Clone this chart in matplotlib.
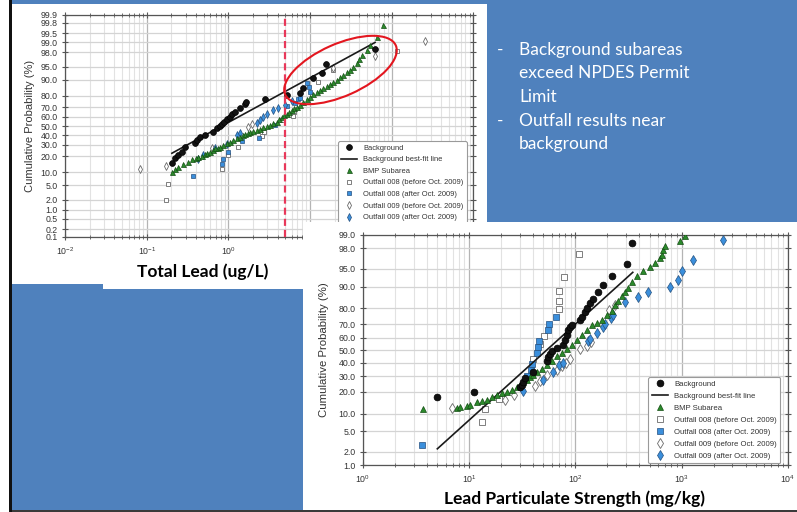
from statistics import NormalDist

import numpy as np
import matplotlib
matplotlib.use('Agg')
import matplotlib.pyplot as plt
from matplotlib.patches import Rectangle, Ellipse
from matplotlib.ticker import FixedLocator, FixedFormatter, LogLocator, NullFormatter, LogFormatterMathtext

plt.rcParams['font.family'] = ['Liberation Sans', 'DejaVu Sans']

# ---- Total lead (ug/L) vs cumulative probability (%)
tl_bg_x = [0.203, 0.223, 0.244, 0.269, 0.295, 0.391, 0.410, 0.451, 0.519, 0.655, 0.721, 0.791, 0.830,
           0.886, 0.955, 1.05, 1.12, 1.21, 1.39, 1.60, 1.63, 2.81, 5.27, 7.55, 8.28, 10.8, 13.9, 15.7, 62.5]
tl_bg_p = [15.0, 18.4, 21.0, 23.7, 28.2, 31.5, 34.8, 38.3, 40.1, 43.7, 47.4, 50.0, 52.2,
           54.8, 57.4, 60.2, 63.1, 65.5, 68.9, 73.0, 75.1, 77.4, 80.6, 82.3, 85.3, 90.8, 93.1, 95.8, 98.4]
tl_fit_x = [0.203, 62.5]
tl_fit_p = [22.4, 99.0]
tl_bmp_x = [0.203, 0.223, 0.244, 0.281, 0.324, 0.356, 0.40, 0.43, 0.472, 0.519, 0.55, 0.597, 0.64, 0.687,
            0.74, 0.791, 0.86, 0.955, 1.05, 1.15, 1.27, 1.39, 1.50, 1.60, 1.72, 1.84, 2.0, 2.23, 2.45,
            2.68, 2.95, 3.24, 3.55, 3.91, 4.2, 4.50, 4.85, 5.19, 5.55, 5.97, 6.4, 6.87, 7.5, 8.28, 9.1,
            10.0, 11.0, 12.1, 13.2, 14.5, 16.0, 17.6, 19.3, 21.2, 23.3, 25.6, 28.0, 30.9, 34.0, 37.3,
            40.0, 43.0, 49.4, 54.2, 65.5, 78.9]
tl_bmp_p = [10.2, 11.4, 12.9, 14.5, 16.0, 17.7, 18.8, 19.5, 20.2, 21.8, 22.5, 23.7, 25.0, 26.7,
            27.3, 28.2, 29.8, 31.5, 33.0, 34.8, 36.5, 38.3, 40.0, 41.2, 42.2, 43.0, 44.2, 45.6, 47.0,
            48.6, 50.0, 51.1, 53.0, 54.8, 57.5, 59.6, 61.5, 63.1, 65.0, 67.2, 69.0, 70.4, 72.5, 75.1, 77.3,
            79.3, 81.2, 83.0, 84.3, 85.3, 86.7, 87.9, 89.0, 90.0, 91.2, 92.2, 93.2, 94.1, 95.1, 96.0,
            96.8, 97.6, 98.3, 98.8, 99.35, 99.75]
tl_o8b_x = [0.173, 0.184, 0.830, 1.0, 1.31, 2.56, 2.73, 4.50, 6.25, 6.37, 12.6, 19.3, 115]
tl_o8b_p = [2.0, 5.2, 11.6, 20.7, 27.5, 39.0, 43.4, 56.6, 61.0, 65.2, 89.1, 94.0, 98.2]
tl_o8a_x = [0.373, 0.830, 0.869, 1.0, 1.46, 2.36, 3.73, 5.19, 6.55, 7.19, 7.55, 9.12, 9.73, 10.0]
tl_o8a_p = [8.3, 14.8, 17.7, 23.7, 33.5, 36.6, 50.6, 71.1, 74.3, 77.0, 78.0, 88.5, 86.2, 83.1]
tl_o9b_x = [0.083, 0.173, 0.631, 1.76, 1.95, 19.3, 62.5, 254]
tl_o9b_p = [11.4, 13.5, 27.0, 48.9, 51.7, 94.8, 97.5, 99.1]
tl_o9a_x = [0.430, 0.494, 0.687, 0.955, 1.27, 1.39, 2.23, 2.44, 2.66, 2.95, 3.56, 4.09, 4.94, 6.02]
tl_o9a_p = [17.9, 21.0, 27.3, 31.3, 39.6, 42.6, 53.0, 56.6, 59.9, 62.8, 66.7, 69.2, 72.5, 75.7]
permit_limit = 5.0

# ---- Lead particulate strength (mg/kg) vs cumulative probability (%)
ps_bg_x = [5.01, 11.0, 30.1, 31.2, 32.3, 33.5, 40.1, 53.7, 55.6, 57.6, 59.8, 66.7, 76.9, 79.8, 82.8,
           85.7, 88.9, 92.3, 110, 115, 123, 128, 137, 147, 164, 183, 220, 306, 339]
ps_bg_p = [17.1, 19.8, 22.7, 24.3, 26.1, 28.6, 33.2, 41.2, 44.4, 46.8, 49.2, 51.6, 54.0, 58.0, 62.3,
           65.7, 68.3, 69.5, 72.8, 74.8, 77.9, 80.4, 82.9, 85.1, 87.9, 90.5, 93.2, 95.9, 98.45]
ps_fit_x = [5.01, 347]
ps_fit_p = [2.3, 94.2]
ps_bmp_x = [3.70, 7.62, 8.19, 9.47, 10.2, 11.8, 13.1, 14.6, 16.3, 18.2, 20.2, 22.5, 25.1, 28.0, 30.1,
            32.3, 34.8, 37.4, 40.1, 43.2, 48.2, 53.7, 59.8, 66.7, 74.3, 82.8, 92.3, 103, 115, 128, 142,
            159, 177, 197, 220, 236, 254, 273, 293, 315, 339, 378, 430, 504, 562, 626, 650, 673, 698,
            966, 1077]
ps_bmp_p = [11.7, 12.1, 12.3, 13.0, 13.5, 14.7, 15.3, 15.8, 17.0, 18.0, 19.1, 19.8, 21.1, 22.5, 24.2,
            25.9, 27.4, 29.3, 30.9, 32.8, 35.3, 38.3, 41.4, 44.9, 47.6, 50.8, 54.3, 58.2, 62.1, 65.9, 69.1,
            70.7, 72.97, 75.8, 78.6, 81.7, 84.0, 86.1, 87.9, 89.5, 91.7, 93.2, 94.6, 95.3, 96.1, 96.8, 97.3,
            97.8, 98.2, 98.6, 98.97]
ps_o8b_x = [13.2, 14.1, 18.9, 40.1, 46.4, 50.1, 70.4, 70.4, 70.8, 77.6, 107]
ps_o8b_p = [7.2, 11.7, 16.1, 43.2, 55.2, 61.5, 79.5, 83.9, 88.4, 92.9, 97.35]
ps_o8a_x = [3.6, 34.8, 37.9, 38.8, 43.2, 44.8, 45.7, 55.6, 56.4, 65.3]
ps_o8a_p = [2.7, 29.8, 34.1, 38.9, 47.6, 52.2, 57.0, 65.9, 70.0, 74.6]
ps_o9b_x = [6.89, 21.7, 26.4, 41.7, 46.9, 53.7, 66.7, 74.8, 80.7, 88.9, 110, 128, 140, 207, 236]
ps_o9b_p = [12.0, 15.9, 18.4, 23.4, 26.9, 30.7, 34.5, 37.7, 39.4, 43.2, 51.2, 53.6, 56.8, 79.3, 82.1]
ps_o9a_x = [32.3, 49.2, 61.5, 70.5, 76.4, 132, 137, 159, 183, 190, 215, 228, 293, 391, 486, 778, 931,
            1002, 1288, 2472]
ps_o9a_p = [20.7, 27.6, 32.9, 37.9, 39.6, 57.0, 58.8, 63.4, 67.9, 70.4, 74.1, 76.0, 83.6, 85.7, 88.1,
            90.0, 92.2, 94.4, 96.5, 98.7]

tl_ticks = [0.1, 0.2, 0.5, 1, 2, 5, 10, 20, 30, 40, 50, 60, 70, 80, 90, 95, 98, 99, 99.5, 99.8, 99.9]
ps_ticks = [1, 2, 5, 10, 20, 30, 40, 50, 60, 70, 80, 90, 95, 98, 99]

bullets = ['Background subareas', 'exceed NPDES Permit', 'Limit', 'Outfall results near', 'background']

_nd = NormalDist()
_ppf = np.vectorize(lambda v: _nd.inv_cdf(v) if np.isfinite(v) else np.nan, otypes=[float])
_cdf = np.vectorize(lambda v: _nd.cdf(v) if np.isfinite(v) else np.nan, otypes=[float])


def probit(p):
    q = np.clip(np.asarray(p, dtype=float) / 100.0, 1e-9, 1 - 1e-9)
    return _ppf(q)


def unprobit(z):
    return 100.0 * _cdf(np.asarray(z, dtype=float))


W, H = 797, 512
BLUE = '#4f81bd'
fig = plt.figure(figsize=(W / 100, H / 100), dpi=100)
fig.patch.set_facecolor(BLUE)


def frac(x0, y0, x1, y1):
    # pixel box measured from the top-left corner -> figure fraction rect
    return [x0 / W, 1 - y1 / H, (x1 - x0) / W, (y1 - y0) / H]


def white_box(x0, y0, x1, y1, z, color='white'):
    l, b, w, h = frac(x0, y0, x1, y1)
    fig.add_artist(Rectangle((l, b), w, h, transform=fig.transFigure,
                             facecolor=color, edgecolor='none', zorder=z))


white_box(12, 4, 487, 284, 0.1)
white_box(103, 280, 303, 289, 0.1)
white_box(303, 222, 797, 510, 2)
white_box(0, 509.5, 797, 512, 5, '#3a3a3a')
white_box(0, 0, 9, 512, 5)
white_box(9, 0, 12, 512, 5, '#111111')

GREEN = '#2b8a2b'
LBLUE = '#3b8fdc'


def style_axes(ax, xlim, ticks):
    ax.set_xscale('log')
    ax.set_yscale('function', functions=(probit, unprobit))
    ax.set_xlim(*xlim)
    ax.set_ylim(ticks[0], ticks[-1])
    ax.yaxis.set_major_locator(FixedLocator(ticks))
    ax.yaxis.set_major_formatter(FixedFormatter(['%.1f' % t for t in ticks]))
    ax.yaxis.set_minor_locator(FixedLocator([]))
    ax.xaxis.set_major_locator(LogLocator(base=10, numticks=10))
    ax.xaxis.set_major_formatter(LogFormatterMathtext())
    ax.xaxis.set_minor_locator(LogLocator(base=10, subs=np.arange(2, 10), numticks=20))
    ax.xaxis.set_minor_formatter(NullFormatter())
    ax.grid(which='major', axis='y', color='#d4d4d4', lw=0.9)
    ax.grid(which='major', axis='x', color='#b4b4b4', lw=0.9)
    ax.grid(which='minor', axis='x', color='#e2e2e2', lw=0.8)
    ax.set_axisbelow(True)
    for sp in ax.spines.values():
        sp.set_color('#555555')
        sp.set_linewidth(0.9)
    ax.tick_params(which='both', direction='inout', top=True, right=True,
                   color='#555555', labelsize=6.3, labelcolor='#333333')
    ax.tick_params(which='major', length=4)
    ax.tick_params(which='minor', length=3)
    ax.tick_params(axis='x', pad=4)
    ax.set_facecolor('white')


def draw_series(ax, data, ms):
    bg_x, bg_p, fit_x, fit_p, bmp_x, bmp_p, o8b_x, o8b_p, o8a_x, o8a_p, o9b_x, o9b_p, o9a_x, o9a_p = data
    ax.plot(bg_x, bg_p, 'o', ms=ms + 0.6, color='#111111', mec='#000000', mew=0.5, ls='none',
            label='Background', zorder=5)
    ax.plot(fit_x, fit_p, '-', color='#1a1a1a', lw=1.2, label='Background best-fit line', zorder=4)
    ax.plot(bmp_x, bmp_p, '^', ms=ms, color=GREEN, mec='#134d13', mew=0.5, ls='none',
            label='BMP Subarea', zorder=4)
    ax.plot(o8b_x, o8b_p, 's', ms=ms - 0.3, mfc='white', mec='#6a6a6a', mew=0.6, ls='none',
            label='Outfall 008 (before Oct. 2009)', zorder=3)
    ax.plot(o8a_x, o8a_p, 's', ms=ms - 0.3, mfc=LBLUE, mec='#24507f', mew=0.5, ls='none',
            label='Outfall 008 (after Oct. 2009)', zorder=3)
    ax.plot(o9b_x, o9b_p, 'd', ms=ms + 0.4, mfc='white', mec='#6a6a6a', mew=0.6, ls='none',
            label='Outfall 009 (before Oct. 2009)', zorder=3)
    ax.plot(o9a_x, o9a_p, 'd', ms=ms + 0.4, mfc=LBLUE, mec='#24507f', mew=0.5, ls='none',
            label='Outfall 009 (after Oct. 2009)', zorder=3)


def add_legend(ax, x0, y0, fs):
    leg = ax.legend(loc='upper left', bbox_to_anchor=(x0 / W, 1 - y0 / H), bbox_transform=fig.transFigure,
                    fontsize=fs, handlelength=2.1, handletextpad=0.8, labelspacing=0.58, borderpad=0.45,
                    borderaxespad=0, framealpha=1, edgecolor='#9a9a9a', fancybox=True, numpoints=1)
    leg.get_frame().set_linewidth(0.8)
    for t in leg.get_texts():
        t.set_color('#333333')
    return leg


# chart 1: total lead
ax1 = fig.add_axes(frac(65.1, 15, 473.4, 237))
ax1.set_zorder(1)
style_axes(ax1, (1e-2, 1e3), tl_ticks)
draw_series(ax1, (tl_bg_x, tl_bg_p, tl_fit_x, tl_fit_p, tl_bmp_x, tl_bmp_p, tl_o8b_x, tl_o8b_p,
                  tl_o8a_x, tl_o8a_p, tl_o9b_x, tl_o9b_p, tl_o9a_x, tl_o9a_p), 3.6)
ax1.axvline(permit_limit, color='#e8385a', lw=1.6, ls=(0, (3.2, 1.8)), zorder=6)
add_legend(ax1, 338, 141, 5.4)

# circled upper tail of the total lead chart
fig.add_artist(Ellipse((340.5 / 100, (H - 70) / 100), 1.21, 0.52, angle=24,
                       transform=fig.dpi_scale_trans, facecolor='none', edgecolor='#e3161f',
                       lw=1.5, zorder=1.5))

# chart 2: lead particulate strength
ax2 = fig.add_axes(frac(363, 235, 787.8, 465.2))
ax2.set_zorder(3)
style_axes(ax2, (1e0, 1e4), ps_ticks)
draw_series(ax2, (ps_bg_x, ps_bg_p, ps_fit_x, ps_fit_p, ps_bmp_x, ps_bmp_p, ps_o8b_x, ps_o8b_p,
                  ps_o8a_x, ps_o8a_p, ps_o9b_x, ps_o9b_p, ps_o9a_x, ps_o9a_p), 4.3)
add_legend(ax2, 648, 377, 5.6)

# axis labels
fig.text(30 / W, 1 - 126 / H, 'Cumulative Probability (%)', rotation=90, ha='center', va='center',
         fontsize=8, color='#333333', zorder=1.2)
fig.text(324 / W, 1 - 350 / H, 'Cumulative Probability (%)', rotation=90, ha='center', va='center',
         fontsize=8.2, color='#333333', zorder=4)
fig.text(203 / W, 1 - 272 / H, 'Total Lead (ug/L)', ha='center', va='center', fontsize=12.5,
         fontweight='bold', family='Lato', color='black', zorder=1.2)
fig.text(575 / W, 1 - 499 / H, 'Lead Particulate Strength (mg/kg)', ha='center', va='center',
         fontsize=12.5, fontweight='bold', family='Lato', color='black', zorder=4)

# bullet points on the slide background
line_y = [50, 73.5, 97, 121, 144.5]
for i, (txt, y) in enumerate(zip(bullets, line_y)):
    if i in (0, 3):
        fig.text(497 / W, 1 - y / H, '-', ha='left', va='center', fontsize=12.5, family='Lato',
                 color='white', zorder=1)
    fig.text(519 / W, 1 - y / H, txt, ha='left', va='center', fontsize=12.5, family='Lato',
             color='white', zorder=1)

fig.savefig('out.png', dpi=100, facecolor=fig.get_facecolor())
